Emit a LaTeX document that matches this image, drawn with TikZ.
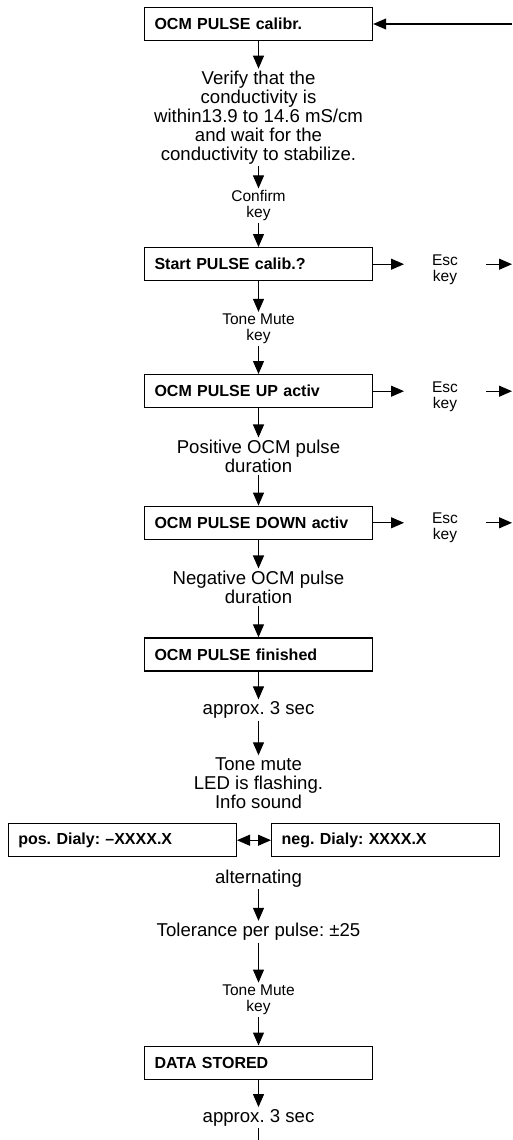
\documentclass[tikz,border=0pt]{standalone}
\usepackage{fontspec}
\setmainfont{Liberation Sans}
\usetikzlibrary{arrows.meta}
\frenchspacing
\begin{document}
\begin{tikzpicture}[x=1pt,y=-1pt,
  box/.style={draw, line width=1.4pt, minimum height=33pt, text width=208pt, inner xsep=10pt, inner ysep=0pt, align=left, font=\bfseries\fontsize{16}{18}\selectfont},
  big/.style={align=center, inner sep=2pt, font=\fontsize{18.6}{19}\selectfont},
  small/.style={align=center, inner sep=2pt, font=\fontsize{15.5}{16}\selectfont},
  arr/.style={line width=1.1pt, -{Triangle[length=13pt,width=11pt]}},
  dbl/.style={line width=1.1pt, {Triangle[length=13pt,width=11pt]}-{Triangle[length=13pt,width=11pt]}},
  plain/.style={line width=1.1pt}]
\useasboundingbox (0,0) rectangle (512,1140);

\node[box] (b1) at (258.5,24) {OCM PULSE calibr.};
\node[big] (verify) at (258.5,117.5) {Verify that the\\conductivity is\\within13.9 to 14.6 mS/cm\\and wait for the\\conductivity to stabilize.};
\node[small] (confirm) at (258.5,205.8) {Confirm\\key};
\node[box] (b2) at (258.5,264.2) {Start PULSE calib.?};
\node[small] (esc1) at (445,269.5) {Esc\\key};
\node[small] (tm1) at (258.5,329) {Tone Mute\\key};
\node[box] (b3) at (258.5,391.2) {OCM PULSE UP activ};
\node[small] (esc2) at (445,396.3) {Esc\\key};
\node[big] (posd) at (258.5,456) {Positive OCM pulse\\duration};
\node[box] (b4) at (258.5,522.8) {OCM PULSE DOWN activ};
\node[small] (esc3) at (445,528) {Esc\\key};
\node[big] (negd) at (258.5,587) {Negative OCM pulse\\duration};
\node[box] (b5) at (258.5,654.5) {OCM PULSE finished};
\node[big] (ap1) at (258.5,710) {approx. 3 sec};
\node[big] (tone) at (258.5,783) {Tone mute\\LED is flashing.\\Info sound};
\node[box] (pd) at (122.3,840.2) {pos. Dialy: –XXXX.X};
\node[box] (nd) at (385.7,840.2) {neg. Dialy: XXXX.X};
\node[big] (alt) at (258.5,878.3) {alternating};
\node[big] (tol) at (258.5,931.7) {Tolerance per pulse: ±25};
\node[small] (tm2) at (258.5,999.7) {Tone Mute\\key};
\node[box] (b6) at (258.5,1062.7) {DATA STORED};
\node[big] (ap2) at (258.5,1117.7) {approx. 3 sec};

\coordinate (in) at (512,24);
\coordinate (e1a) at (404,264.2);
\coordinate (e1b) at (486,264.2);
\coordinate (e1c) at (512,264.2);
\coordinate (e2a) at (404,391.2);
\coordinate (e2b) at (486,391.2);
\coordinate (e2c) at (512,391.2);
\coordinate (e3a) at (404,522.8);
\coordinate (e3b) at (486,522.8);
\coordinate (e3c) at (512,522.8);
\coordinate (bottom) at (258.5,1140);

\draw[arr] (in) -- (b1);
\draw[arr] (b1) -- (verify);
\draw[arr] (verify) -- (confirm);
\draw[arr] (confirm) -- (b2);
\draw[arr] (b2.east) -- (e1a);
\draw[arr] (e1b) -- (e1c);
\draw[arr] (b2) -- (tm1);
\draw[arr] (tm1) -- (b3);
\draw[arr] (b3.east) -- (e2a);
\draw[arr] (e2b) -- (e2c);
\draw[arr] (b3) -- (posd);
\draw[arr] (posd) -- (b4);
\draw[arr] (b4.east) -- (e3a);
\draw[arr] (e3b) -- (e3c);
\draw[arr] (b4) -- (negd);
\draw[arr] (negd) -- (b5);
\draw[arr] (b5) -- (ap1);
\draw[arr] (ap1) -- (tone);
\draw[dbl] (pd) -- (nd);
\draw[arr] (alt) -- (tol);
\draw[arr] (tol) -- (tm2);
\draw[arr] (tm2) -- (b6);
\draw[arr] (b6) -- (ap2);
\draw[plain] (ap2) -- (bottom);
\end{tikzpicture}
\end{document}
